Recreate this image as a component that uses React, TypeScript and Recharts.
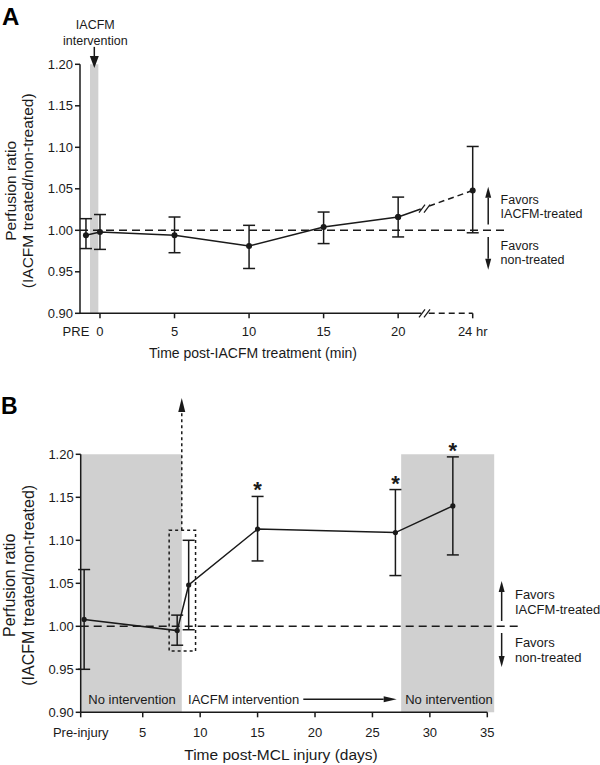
import {
  ComposedChart,
  Line,
  Scatter,
  XAxis,
  YAxis,
  ErrorBar,
  ReferenceLine,
  ReferenceArea,
  ReferenceDot,
} from 'recharts';

const FONT = '"Liberation Sans", Arial, Helvetica, sans-serif';
const INK = '#1a1a1a';
const GREY = '#d0d0d0';

// ---- Panel A: minutes after IACFM treatment (25 = the 24 hr reading)
const minutesA = [-0.94, 0, 5, 10, 15, 20, 25];
const ratioA = [0.994, 0.998, 0.994, 0.981, 1.004, 1.016, 1.048];
const lowA = [0.978, 0.977, 0.973, 0.954, 0.984, 0.992, 0.997];
const highA = [1.014, 1.019, 1.016, 1.006, 1.022, 1.040, 1.101];
const ticksA = [0, 5, 10, 15, 20, 25];
const tickLabelsA = ['0', '5', '10', '15', '20', '24 hr'];

// ---- Panel B: days after MCL injury
const daysB = [-0.1, 8, 9, 15, 27, 32];
const ratioB = [1.008, 0.995, 1.048, 1.113, 1.109, 1.14];
const lowB = [0.95, 0.978, 0.996, 1.076, 1.059, 1.083];
const highB = [1.066, 1.013, 1.1, 1.151, 1.159, 1.197];
const significantB = [false, false, false, true, true, true];
const ticksB = [-0.4, 5, 10, 15, 20, 25, 30, 35];
const tickLabelsB = ['Pre-injury', '5', '10', '15', '20', '25', '30', '35'];

const yTicks = [0.9, 0.95, 1.0, 1.05, 1.1, 1.15, 1.2];

const rowsA = minutesA.map((x, i) => ({
  x,
  y: ratioA[i],
  err: [ratioA[i] - lowA[i], highA[i] - ratioA[i]],
}));
const solidA = rowsA.slice(0, 6);
const dashedA = [{ ...rowsA[5], err: null }, rowsA[6]];

const rowsB = daysB.map((x, i) => ({
  x,
  y: ratioB[i],
  err: [ratioB[i] - lowB[i], highB[i] - ratioB[i]],
}));
const starsB = daysB
  .map((x, i) => ({ x, y: highB[i], sig: significantB[i] }))
  .filter((d) => d.sig);

// arrow drawn along a reference segment, head at the second point
const arrow = (head: number, half: number, dash?: string) => (p: any) => {
  const { x1, y1, x2, y2 } = p;
  const len = Math.hypot(x2 - x1, y2 - y1) || 1;
  const ux = (x2 - x1) / len;
  const uy = (y2 - y1) / len;
  const bx = x2 - ux * head;
  const by = y2 - uy * head;
  const pts = `${x2},${y2} ${bx - uy * half},${by + ux * half} ${bx + uy * half},${by - ux * half}`;
  return (
    <g>
      <line x1={x1} y1={y1} x2={bx} y2={by} stroke={INK} strokeWidth={1.5} strokeDasharray={dash} />
      <polygon points={pts} fill={INK} />
    </g>
  );
};

const note = (lines: { dy: number; text: string }[], size: number, anchor = 'start', dx = 0) => (p: any) => (
  <g>
    {lines.map((l, i) => (
      <text key={i} x={p.cx + dx} y={p.cy + l.dy} textAnchor={anchor} fontSize={size} fill={INK} fontFamily={FONT}>
        {l.text}
      </text>
    ))}
  </g>
);

const breakMark = (p: any) => {
  const { cx, cy } = p;
  return (
    <g>
      <rect x={cx - 3} y={cy - 5} width={6} height={10} fill="#fff" />
      <line x1={cx - 6} y1={cy + 4} x2={cx} y2={cy - 4} stroke={INK} strokeWidth={1.3} />
      <line x1={cx - 1} y1={cy + 4} x2={cx + 5} y2={cy - 4} stroke={INK} strokeWidth={1.3} />
    </g>
  );
};

const yTitle = (b1: number, b2: number, size: number) => (props: any) => {
  const vb = props.viewBox;
  const cy = vb.y + vb.height / 2 + 2;
  return (
    <g fontFamily={FONT} fontSize={size} fill={INK}>
      <text x={b1} y={cy} transform={`rotate(-90 ${b1} ${cy})`} textAnchor="middle">
        Perfusion ratio
      </text>
      <text x={b2} y={cy} transform={`rotate(-90 ${b2} ${cy})`} textAnchor="middle">
        (IACFM treated/non-treated)
      </text>
    </g>
  );
};

const xTitle = (text: string, cx: number, dy: number, size: number) => (props: any) => {
  const vb = props.viewBox;
  return (
    <text x={cx} y={vb.y + dy} textAnchor="middle" fontFamily={FONT} fontSize={size} fill={INK}>
      {text}
    </text>
  );
};

const tickA = (p: any) => {
  const i = ticksA.indexOf(p.payload.value);
  return (
    <g fontFamily={FONT} fontSize={13} fill={INK}>
      {p.payload.value === 0 && (
        <text x={p.x - 24} y={p.y} dy="0.71em" textAnchor="middle">
          PRE
        </text>
      )}
      <text x={p.x} y={p.y} dy="0.71em" textAnchor="middle">
        {tickLabelsA[i]}
      </text>
    </g>
  );
};

const tickB = (p: any) => {
  const i = ticksB.indexOf(p.payload.value);
  return (
    <text x={p.x} y={p.y} dy="0.71em" textAnchor="middle" fontFamily={FONT} fontSize={13} fill={INK}>
      {tickLabelsB[i]}
    </text>
  );
};

const yTickStyle = { fill: INK, fontFamily: FONT, fontSize: 13 };

function PanelA() {
  return (
    <ComposedChart width={600} height={365} margin={{ top: 64.3, right: 127.3, bottom: 21.7, left: 20 }}>
      <XAxis
        type="number"
        dataKey="x"
        domain={[-1.34, 25]}
        ticks={ticksA}
        tick={tickA}
        tickSize={5}
        tickMargin={8}
        axisLine={false}
        tickLine={{ stroke: INK, strokeWidth: 1.5 }}
        height={30}
        label={{ content: xTitle('Time post-IACFM treatment (min)', 253, 45, 14) }}
      />
      <YAxis
        type="number"
        domain={[0.9, 1.2]}
        ticks={yTicks}
        tickFormatter={(v: number) => v.toFixed(2)}
        tick={yTickStyle}
        tickSize={5}
        width={60}
        axisLine={{ stroke: INK, strokeWidth: 1.5 }}
        tickLine={{ stroke: INK, strokeWidth: 1.5 }}
        label={{ content: yTitle(16, 33, 15.5) }}
      />
      <ReferenceArea x1={-0.67} x2={-0.11} y1={0.9} y2={1.2} fill={GREY} fillOpacity={1} stroke="none" ifOverflow="visible" />
      <ReferenceLine
        segment={[{ x: -1.34, y: 1 }, { x: 27.16, y: 1 }]}
        stroke={INK}
        strokeWidth={1.5}
        strokeDasharray="8 5"
        ifOverflow="visible"
      />
      <ReferenceLine segment={[{ x: -1.34, y: 0.9 }, { x: 21.55, y: 0.9 }]} stroke={INK} strokeWidth={1.5} ifOverflow="visible" />
      <ReferenceLine
        segment={[{ x: 22.05, y: 0.9 }, { x: 25, y: 0.9 }]}
        stroke={INK}
        strokeWidth={1.5}
        strokeDasharray="6 4"
        ifOverflow="visible"
      />
      <ReferenceLine
        segment={[{ x: -0.38, y: 1.221 }, { x: -0.38, y: 1.1955 }]}
        ifOverflow="visible"
        shape={arrow(12, 4.5)}
      />
      <ReferenceDot
        x={-0.38}
        y={1.2}
        ifOverflow="visible"
        shape={note([{ dy: -35, text: 'IACFM' }, { dy: -19.3, text: 'intervention' }], 12.5, 'middle', 1)}
      />
      <Line data={solidA} dataKey="y" stroke={INK} strokeWidth={1.5} dot={{ r: 3, fill: INK, stroke: INK, strokeWidth: 0 }} isAnimationActive={false}>
        <ErrorBar dataKey="err" direction="y" width={6} stroke={INK} strokeWidth={1.5} />
      </Line>
      <Line
        data={dashedA}
        dataKey="y"
        stroke={INK}
        strokeWidth={1.5}
        strokeDasharray="24 9 6 4 6 4 6 4 6 4 6 4 6 4 6 4 6 4"
        dot={{ r: 3, fill: INK, stroke: INK, strokeWidth: 0 }}
        isAnimationActive={false}
      >
        <ErrorBar dataKey="err" direction="y" width={6} stroke={INK} strokeWidth={1.5} />
      </Line>
      <ReferenceDot x={21.8} y={1.0262} ifOverflow="visible" shape={breakMark} />
      <ReferenceDot x={21.8} y={0.9} ifOverflow="visible" shape={breakMark} />
      <ReferenceLine segment={[{ x: 26.04, y: 1.0069 }, { x: 26.04, y: 1.0525 }]} ifOverflow="visible" shape={arrow(11, 3)} />
      <ReferenceLine segment={[{ x: 26.04, y: 0.992 }, { x: 26.04, y: 0.9525 }]} ifOverflow="visible" shape={arrow(11, 3)} />
      <ReferenceDot
        x={26.04}
        y={1}
        ifOverflow="visible"
        shape={note(
          [
            { dy: -26.7, text: 'Favors' },
            { dy: -12.7, text: 'IACFM-treated' },
            { dy: 19.8, text: 'Favors' },
            { dy: 33.8, text: 'non-treated' },
          ],
          12.5,
          'start',
          12.4,
        )}
      />
    </ComposedChart>
  );
}

function PanelB() {
  return (
    <ComposedChart width={600} height={400} margin={{ top: 89.3, right: 112.7, bottom: 22.7, left: 20.7 }}>
      <XAxis
        type="number"
        dataKey="x"
        domain={[-0.4, 35]}
        ticks={ticksB}
        tick={tickB}
        tickSize={5}
        tickMargin={10}
        axisLine={{ stroke: INK, strokeWidth: 1.5 }}
        tickLine={{ stroke: INK, strokeWidth: 1.5 }}
        height={30}
        label={{ content: xTitle('Time post-MCL injury (days)', 281, 48, 15.5) }}
      />
      <YAxis
        type="number"
        domain={[0.9, 1.2]}
        ticks={yTicks}
        tickFormatter={(v: number) => v.toFixed(2)}
        tick={yTickStyle}
        tickSize={5}
        width={60}
        axisLine={{ stroke: INK, strokeWidth: 1.5 }}
        tickLine={{ stroke: INK, strokeWidth: 1.5 }}
        label={{ content: yTitle(15.5, 34, 16) }}
      />
      <ReferenceArea x1={-0.4} x2={8.4} y1={0.9} y2={1.2} fill={GREY} fillOpacity={1} stroke="none" ifOverflow="visible" />
      <ReferenceArea x1={27.5} x2={35.6} y1={0.9} y2={1.2} fill={GREY} fillOpacity={1} stroke="none" ifOverflow="visible" />
      <ReferenceLine
        segment={[{ x: -0.4, y: 1 }, { x: 37.85, y: 1 }]}
        stroke={INK}
        strokeWidth={1.5}
        strokeDasharray="8 5"
        ifOverflow="visible"
      />
      <ReferenceArea
        x1={7.3}
        x2={9.6}
        y1={0.9713}
        y2={1.1116}
        fill="none"
        stroke={INK}
        strokeWidth={1.5}
        strokeDasharray="3 3"
        ifOverflow="visible"
      />
      <ReferenceLine
        segment={[{ x: 8.4, y: 1.1116 }, { x: 8.4, y: 1.2655 }]}
        ifOverflow="visible"
        shape={arrow(14, 3.5, '3 3')}
      />
      <ReferenceDot x={4.07} y={0.9093} ifOverflow="visible" shape={note([{ dy: 0, text: 'No intervention' }], 13, 'middle')} />
      <ReferenceDot x={18.98} y={0.9093} ifOverflow="visible" shape={note([{ dy: 0, text: 'IACFM intervention' }], 13, 'end', -4)} />
      <ReferenceLine segment={[{ x: 18.98, y: 0.9151 }, { x: 27.11, y: 0.9151 }]} ifOverflow="visible" shape={arrow(13, 3)} />
      <ReferenceDot x={31.66} y={0.9093} ifOverflow="visible" shape={note([{ dy: 0, text: 'No intervention' }], 13, 'middle')} />
      <Line data={rowsB} dataKey="y" stroke={INK} strokeWidth={1.5} dot={{ r: 2.6, fill: INK, stroke: INK, strokeWidth: 0 }} isAnimationActive={false}>
        <ErrorBar dataKey="err" direction="y" width={6} stroke={INK} strokeWidth={1.5} />
      </Line>
      <Scatter
        data={starsB}
        dataKey="y"
        isAnimationActive={false}
        shape={(p: any) => (
          <text x={p.cx} y={p.cy + 1} textAnchor="middle" fontFamily={FONT} fontWeight="bold" fontSize={22} fill={INK}>
            *
          </text>
        )}
      />
      <ReferenceLine segment={[{ x: 36.25, y: 1.0062 }, { x: 36.25, y: 1.0527 }]} ifOverflow="visible" shape={arrow(11, 3)} />
      <ReferenceLine segment={[{ x: 36.25, y: 0.9922 }, { x: 36.25, y: 0.9527 }]} ifOverflow="visible" shape={arrow(11, 3)} />
      <ReferenceDot
        x={36.25}
        y={1}
        ifOverflow="visible"
        shape={note(
          [
            { dy: -27.5, text: 'Favors' },
            { dy: -12.2, text: 'IACFM-treated' },
            { dy: 20.2, text: 'Favors' },
            { dy: 35.2, text: 'non-treated' },
          ],
          13,
          'start',
          13.3,
        )}
      />
    </ComposedChart>
  );
}

export default function App() {
  return (
    <div style={{ position: 'absolute', left: 0, top: 0, width: 600, height: 765, background: '#fff', fontFamily: FONT }}>
      <div style={{ position: 'absolute', left: 0, top: 0 }}>
        <PanelA />
      </div>
      <div style={{ position: 'absolute', left: 0, top: 365 }}>
        <PanelB />
      </div>
      <svg width={600} height={765} style={{ position: 'absolute', left: 0, top: 0, pointerEvents: 'none' }}>
        <text x={2} y={25} fontFamily={FONT} fontWeight="bold" fontSize={24} fill="#000">
          A
        </text>
        <text x={1} y={414} fontFamily={FONT} fontWeight="bold" fontSize={23} fill="#000">
          B
        </text>
      </svg>
    </div>
  );
}
